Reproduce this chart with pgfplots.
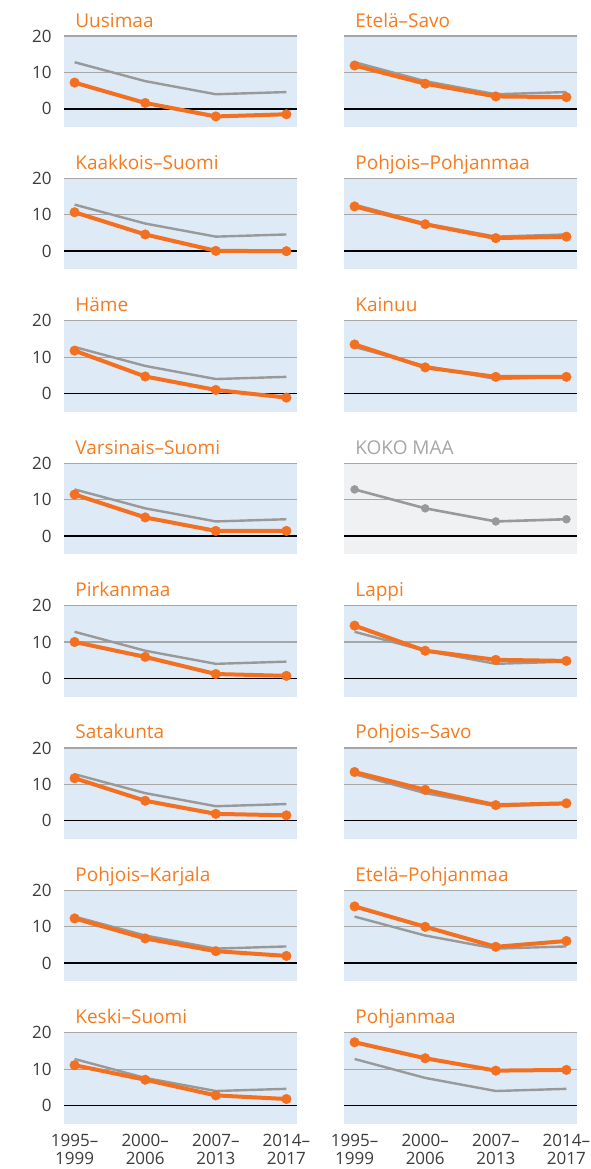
\documentclass[border=0pt]{standalone}
\usepackage{fontspec}
\setmainfont{Open Sans}
\usepackage{pgfplots}
\pgfplotsset{compat=1.18}
\usepgfplotslibrary{groupplots}
\definecolor{orng}{HTML}{F37021}
\definecolor{titleor}{HTML}{F47B20}
\definecolor{natgray}{HTML}{999999}
\definecolor{bgblue}{HTML}{DEEAF6}
\definecolor{bggray}{HTML}{F0F1F3}
\definecolor{gridgray}{HTML}{A6A6A6}
\definecolor{txt}{HTML}{3C3C3C}

\pgfplotsset{
  panel/.style={
    scale only axis, width=116.5pt, height=45.5pt,
    xmin=-0.15, xmax=3.15, ymin=-5, ymax=20,
    xtick={0,1,2,3}, xticklabels={}, ytick={10,20},
    extra y ticks={0},
    extra y tick style={grid=major, grid style={black, line width=0.7pt}},
    ymajorgrids, grid style={gridgray, line width=0.6pt},
    axis line style={draw=none}, major tick length=0pt,
    axis background/.style={fill=bgblue},
    tick label style={font=\fontsize{8.5}{9.2}\selectfont, text=txt},
    /pgf/number format/assume math mode=true,
    yticklabel style={xshift=-2.7pt},
    title style={at={(rel axis cs:0,1)}, anchor=base west, inner sep=0pt,
                 xshift=5.5pt, yshift=-1.5pt,
                 font=\fontsize{9.5}{11}\selectfont, text=titleor},
  },
  rcol/.style={yticklabels={}, extra y tick labels={}},
  bottom/.style={xticklabels={{1995–\\1999},{2000–\\2006},{2007–\\2013},{2014–\\2017}},
                 xticklabel style={align=center, yshift=-1.5pt}},
  nat/.style={natgray, line width=1.2pt, no markers},
  reg/.style={orng, line width=2pt, mark=*, mark size=2.4pt,
              mark options={fill=orng, draw=orng, line width=0.2pt}},
}
\newcommand{\natline}{\addplot[nat] coordinates {(0,12.8) (1,7.6) (2,4.0) (3,4.6)};}

\begin{document}
\begin{tikzpicture}
\begin{groupplot}[group style={group size=2 by 8, horizontal sep=23.5pt, vertical sep=25.7pt}, panel]
% row 1
\nextgroupplot[title={Uusimaa}]
\natline
\addplot[reg] coordinates {(0,7.2) (1,1.6) (2,-2.1) (3,-1.5)};
\nextgroupplot[rcol, title={Etelä–Savo}]
\natline
\addplot[reg] coordinates {(0,11.9) (1,6.9) (2,3.4) (3,3.2)};
% row 2
\nextgroupplot[title={Kaakkois–Suomi}]
\natline
\addplot[reg] coordinates {(0,10.7) (1,4.6) (2,0.1) (3,0.0)};
\nextgroupplot[rcol, title={Pohjois–Pohjanmaa}]
\natline
\addplot[reg] coordinates {(0,12.3) (1,7.4) (2,3.6) (3,4.0)};
% row 3
\nextgroupplot[title={Häme}]
\natline
\addplot[reg] coordinates {(0,11.8) (1,4.7) (2,1.0) (3,-1.1)};
\nextgroupplot[rcol, title={Kainuu}]
\natline
\addplot[reg] coordinates {(0,13.5) (1,7.2) (2,4.6) (3,4.6)};
% row 4
\nextgroupplot[title={Varsinais–Suomi}]
\natline
\addplot[reg] coordinates {(0,11.4) (1,5.1) (2,1.4) (3,1.4)};
\nextgroupplot[rcol, title={KOKO MAA}, title style={text=gridgray},
               axis background/.style={fill=bggray}]
\addplot[natgray, line width=1.3pt, mark=*, mark size=2pt,
         mark options={fill=natgray, line width=0.2pt}]
  coordinates {(0,12.8) (1,7.6) (2,4.0) (3,4.6)};
% row 5
\nextgroupplot[title={Pirkanmaa}]
\natline
\addplot[reg] coordinates {(0,10.0) (1,5.9) (2,1.2) (3,0.7)};
\nextgroupplot[rcol, title={Lappi}]
\natline
\addplot[reg] coordinates {(0,14.5) (1,7.6) (2,5.1) (3,4.8)};
% row 6
\nextgroupplot[title={Satakunta}]
\natline
\addplot[reg] coordinates {(0,11.7) (1,5.5) (2,1.9) (3,1.5)};
\nextgroupplot[rcol, title={Pohjois–Savo}]
\natline
\addplot[reg] coordinates {(0,13.4) (1,8.5) (2,4.3) (3,4.8)};
% row 7
\nextgroupplot[title={Pohjois–Karjala}]
\natline
\addplot[reg] coordinates {(0,12.3) (1,6.8) (2,3.3) (3,2.0)};
\nextgroupplot[rcol, title={Etelä–Pohjanmaa}]
\natline
\addplot[reg] coordinates {(0,15.6) (1,10.0) (2,4.5) (3,6.1)};
% row 8
\nextgroupplot[bottom, title={Keski–Suomi}]
\natline
\addplot[reg] coordinates {(0,11.1) (1,7.1) (2,2.8) (3,1.8)};
\nextgroupplot[bottom, rcol, title={Pohjanmaa}]
\natline
\addplot[reg] coordinates {(0,17.4) (1,13.0) (2,9.6) (3,9.8)};
\end{groupplot}
\path (group c1r1.north west) ++(-32pt,18pt) coordinate (tl);
\pgfresetboundingbox
\path (tl) rectangle ++(295pt,-584.5pt);
\end{tikzpicture}
\end{document}
